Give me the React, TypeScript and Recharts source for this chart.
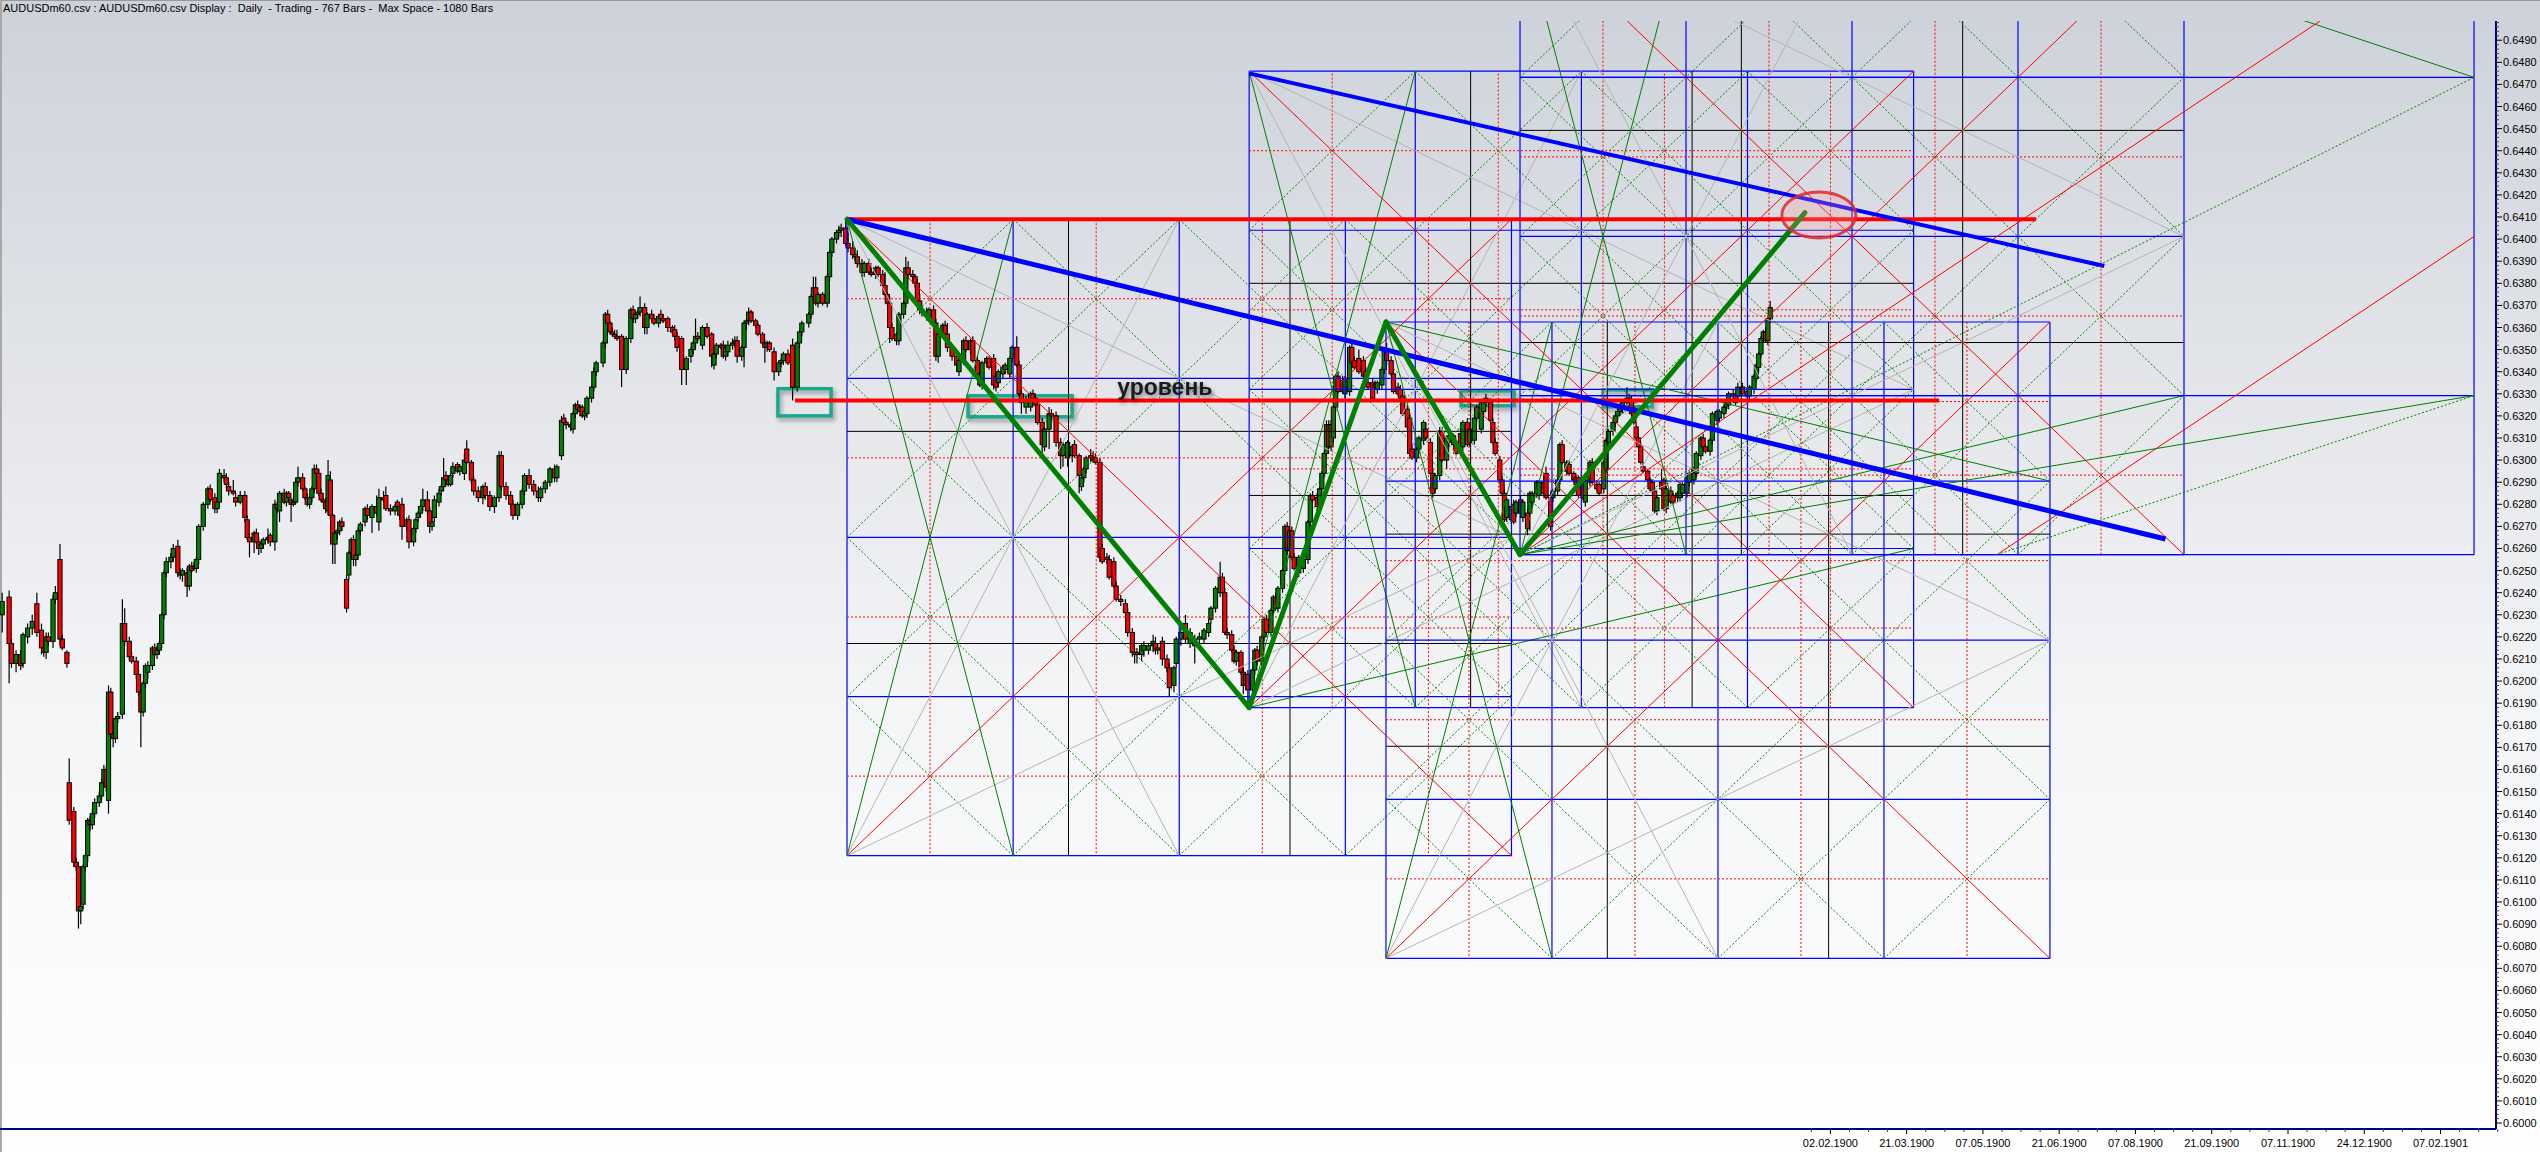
import React from "react";
import { ComposedChart, Bar, XAxis, YAxis, ReferenceLine, ReferenceArea, ReferenceDot } from "recharts";

const FONT = "'Liberation Sans', Arial, sans-serif";
const NAVY = "#000080";

// daily candles: [bar, open, high, low, close], prices in pips above 0.6000
const openingRange = [
  [1,230,240,222,236],[4,238,241,199,217],[5,217,219,206,208],[7,208,214,204,212],[9,212,214,205,207],[10,208,222,206,221],
  [12,220,226,217,224],[14,224,230,221,227],[16,235,240,220,222],[18,223,226,212,215],[19,215,217,211,213],[20,213,222,210,220],
  [21,220,222,216,218],[23,218,239,215,237],[24,237,243,235,240],[26,255,262,216,219],[27,219,221,214,215],[29,213,214,206,208],
];
const firstRally = [
  [30,154,165,135,137],[32,141,143,116,118],[33,118,120,114,116],[34,116,118,88,96],[35,96,99,90,98],[36,99,117,97,116],
  [37,116,122,114,121],[38,121,138,118,137],[39,137,139,132,135],[40,135,142,133,140],[41,140,147,138,145],[43,145,150,143,148],
  [44,148,156,146,154],[45,154,162,152,160],[46,160,161,150,152],[47,146,198,140,195],[48,195,197,174,176],[49,176,178,170,174],
  [50,174,184,172,183],[51,183,186,181,184],[53,185,237,183,226],[54,226,233,216,218],[56,218,220,209,211],[57,211,213,208,209],
  [59,209,211,201,203],[60,203,205,193,195],[61,195,197,170,186],[62,186,200,184,199],[63,199,208,197,207],[64,204,209,201,207],
  [66,207,216,205,215],[67,215,217,211,212],[68,212,216,210,214],[69,214,218,212,217],[70,217,231,215,230],[71,230,250,228,249],
  [72,249,256,247,254],[74,254,258,251,256],[75,256,262,254,260],[77,261,264,247,249],[78,249,251,246,248],[79,248,251,245,250],
  [81,249,251,238,243],[82,243,253,241,252],[83,252,254,249,250],[84,252,254,250,251],[85,251,256,249,255],[86,255,271,253,270],
];
const summerHighs = [
  [88,270,281,268,280],[90,280,288,278,287],[91,287,289,281,282],[93,283,285,276,278],[94,278,282,276,281],[95,281,296,279,294],
  [97,293,296,290,292],[98,292,294,287,289],[99,288,290,284,286],[101,286,291,284,285],[102,283,285,279,281],[104,281,286,280,284],
  [106,284,286,272,274],[107,273,275,264,265],[108,265,267,256,263],[110,263,268,258,267],[111,267,269,262,263],[112,263,265,257,260],
  [113,260,263,258,262],[114,262,265,260,264],[116,264,269,262,265],[117,266,267,261,263],[119,263,282,259,280],[120,280,281,276,278],
  [121,277,286,272,285],[123,285,287,280,281],[124,281,286,279,285],[125,285,286,282,283],[126,282,283,272,280],[127,280,283,279,281],
  [128,281,292,280,290],[129,290,297,288,292],[131,292,294,286,287],[132,287,288,282,283],[133,283,285,279,280],[134,280,284,278,283],
  [135,283,288,281,287],[136,287,298,285,296],[137,296,298,293,294],[138,294,296,284,285],[139,285,287,281,282],[140,282,283,279,281],
  [141,281,283,276,278],[142,277,300,275,293],[143,291,295,273,275],[144,275,276,253,262],[145,262,268,253,267],[146,267,269,264,268],
  [147,268,273,266,272],[148,272,274,268,270],[150,246,248,231,233],[151,248,259,246,258],[152,258,265,256,264],[153,264,266,252,255],
  [154,255,258,252,257],[155,257,270,255,268],[156,268,272,266,271],[158,272,279,270,278],[159,278,280,273,275],[161,274,280,267,279],
  [163,279,284,275,276],[164,272,287,268,283],[166,283,286,281,282],[167,284,288,277,278],[169,278,280,275,277],[171,277,280,275,279],
  [172,281,282,278,279],[173,275,280,273,279],[174,280,283,264,270],[176,270,274,268,273],[177,273,275,260,263],[179,263,270,261,269],
  [180,269,274,267,273],[181,274,277,272,276],[182,276,280,274,279],[183,279,287,277,282],[185,282,286,275,277],[186,277,279,267,270],
  [187,270,274,268,272],[188,274,284,272,282],[190,281,287,279,285],[191,286,289,284,288],[192,288,301,286,292],[193,293,295,289,291],
  [194,291,292,288,289],[195,289,294,288,293],[196,294,299,292,297],[198,298,299,294,295],[199,295,298,293,297],[201,294,303,291,300],
  [202,305,309,298,299],
];
const dipAndRecovery = [
  [204,299,300,289,291],[205,291,293,284,286],[207,286,288,281,283],[209,283,289,280,288],[210,288,290,282,284],[212,284,286,277,279],
  [214,279,284,276,283],[216,283,304,281,302],[217,302,304,286,288],[219,288,290,282,284],[221,284,286,278,280],[222,280,282,273,275],
  [224,275,281,273,280],[226,280,287,278,286],[227,286,294,284,293],[229,293,296,287,289],[231,289,291,284,286],[233,286,288,281,283],
  [234,283,288,281,287],[236,287,291,285,290],[238,290,297,288,296],[240,296,298,290,292],[241,292,298,290,297],
];
const topRally = [
  [243,302,320,300,318],[244,319,321,316,317],[245,317,318,314,316],[247,316,317,313,315],[248,314,322,312,321],[249,321,326,319,325],
  [250,325,327,322,323],[251,322,325,320,324],[252,324,325,319,320],[253,320,323,318,322],[254,321,329,319,328],[256,328,334,326,333],
  [257,333,342,331,340],[258,340,345,338,344],[261,344,354,342,353],[262,353,367,351,366],[263,366,368,361,362],[264,362,363,357,358],
  [265,358,360,356,357],[266,357,359,355,356],[267,356,359,354,355],[269,356,357,333,341],[271,341,356,339,355],[273,355,369,353,368],
  [274,368,370,362,364],[275,364,367,362,366],[276,366,368,364,367],[277,367,374,365,369],[279,369,371,357,360],[280,360,367,357,366],
  [282,366,368,363,364],[283,364,366,361,362],[285,362,366,360,365],[286,366,368,363,364],[287,364,366,362,363],[289,364,365,358,360],
  [291,360,361,357,358],[292,359,361,354,356],[293,356,358,349,351],[295,355,356,334,341],[297,341,347,334,346],[299,347,351,344,350],
  [300,350,354,348,353],[301,353,364,351,356],[302,356,358,354,355],[304,352,361,350,360],[306,360,362,355,356],[308,357,358,342,347],
  [309,343,349,341,348],[310,348,353,346,352],[312,352,353,350,351],[313,352,354,346,347],[314,347,352,345,351],[315,349,354,347,352],
  [317,352,355,350,353],[318,353,356,351,354],[319,354,356,344,347],[321,347,352,345,351],[322,351,363,342,362],[323,362,364,359,363],
  [324,363,369,361,367],[325,367,368,362,363],[327,363,364,360,361],[328,361,362,356,357],[330,357,358,352,353],[331,353,354,344,351],
  [332,351,354,349,353],[333,353,354,349,350],[335,349,351,336,340],[337,340,345,338,344],[338,344,346,342,345],[339,345,349,343,348],
  [341,348,350,343,344],
];
const mainDecline = [
  [343,352,355,327,333],[345,333,354,331,353],[346,353,359,351,358],[347,358,363,356,362],[350,362,367,360,366],[351,366,375,364,374],
  [352,374,383,372,378],[353,378,383,370,371],[354,371,376,369,375],[356,375,376,370,371],[358,371,384,369,383],[359,383,395,381,394],
  [360,394,401,392,400],[362,400,404,398,403],[363,403,406,401,404],[364,404,407,401,405],[366,405,409,397,398],[367,398,403,394,396],
  [369,396,399,391,393],[370,393,396,390,392],[371,392,395,387,389],[373,389,391,383,385],[374,385,390,383,389],[376,389,391,384,385],
  [377,385,387,383,384],[379,384,388,382,387],[380,387,388,383,384],[382,384,386,378,379],[383,379,385,374,375],[384,375,376,370,371],
  [385,371,374,353,360],[386,360,362,354,355],[388,357,358,352,354],[389,354,367,352,366],[391,366,372,364,371],[392,371,392,369,387],
  [393,387,390,382,384],[395,384,386,380,383],[396,383,384,378,380],[397,380,382,371,372],[398,372,375,366,368],[399,368,370,365,367],
  [401,367,369,363,365],[402,365,369,363,368],[404,368,370,361,362],[405,362,364,345,347],[406,347,358,344,357],[408,357,362,355,361],
  [409,361,363,356,357],[410,357,362,349,351],[412,351,352,345,347],[414,347,348,340,343],[415,340,346,338,345],[417,345,355,343,354],
  [418,354,356,349,350],[420,350,355,348,354],[421,354,356,344,345],[423,345,347,338,339],[424,339,341,333,334],[425,334,345,332,344],
  [427,344,347,342,346],[428,346,347,341,342],[430,346,348,332,334],[431,338,339,331,333],[432,335,341,333,340],[434,339,343,337,342],
  [435,341,344,339,343],[437,339,347,337,346],[438,346,352,344,351],[440,351,356,342,343],[441,343,345,329,330],[442,330,332,321,326],
  [444,324,329,321,327],[446,324,331,322,330],[447,330,332,326,327],[448,328,330,324,325],[449,325,327,316,317],[451,317,319,302,307],
  [452,306,315,304,314],[454,314,324,305,321],[455,321,323,318,320],[457,320,322,306,308],[459,308,310,296,302],[460,302,308,297,307],
  [462,301,309,297,308],[464,302,307,299,306],[465,307,309,301,302],[467,302,303,285,293],[468,288,293,286,292],[469,292,297,290,296],
  [470,296,302,294,301],[472,302,305,299,301],[473,301,304,299,300],[474,301,303,298,299],[476,299,301,254,256],[477,260,262,253,254],
  [479,256,258,253,255],[480,255,257,246,247],[482,254,256,242,243],[483,243,245,236,237],[485,237,239,234,236],[487,235,237,230,231],
  [488,231,233,220,222],[490,222,224,211,213],[491,213,215,208,212],[492,213,215,208,212],[494,212,217,209,216],[495,214,218,211,216],
  [497,214,217,212,216],[499,216,221,213,218],[500,217,220,212,214],[501,214,217,212,215],[503,218,220,207,210],[505,210,212,204,206],
  [506,206,208,193,197],[508,198,207,195,206],[509,208,220,206,219],[511,219,224,216,222],[513,226,230,217,219],[515,217,224,215,222],
  [517,216,221,208,219],[519,219,222,216,220],[521,219,224,217,223],[523,222,228,220,226],[524,228,234,226,233],[526,233,243,231,242],
  [528,240,254,238,247],[529,247,249,238,240],[530,240,242,221,222],[531,222,224,219,221],
];
const bottomBase = [
  [533,221,223,213,214],[534,214,216,208,209],[535,209,214,207,213],[537,213,214,203,204],[538,204,206,194,198],[539,198,204,196,203],
  [540,203,205,190,196],[542,196,206,194,205],[543,205,215,203,214],[544,214,216,207,209],[546,209,221,207,220],[547,220,229,218,228],
  [548,228,230,221,222],[550,222,233,220,232],[551,232,239,230,238],[552,238,240,232,233],[553,233,243,231,242],[555,242,251,240,250],
];
const secondSwing = [
  [556,250,271,248,270],[557,270,272,257,259],[558,259,269,257,268],[559,268,270,255,256],[560,256,258,250,251],[562,249,257,247,256],
  [564,251,256,249,255],[566,255,273,253,272],[567,272,285,270,284],[568,284,286,281,282],[570,283,285,277,279],[571,280,288,278,287],
  [572,287,295,285,294],[573,294,304,292,303],[574,303,318,302,316],[575,316,318,305,306],[576,306,318,304,316],[577,310,325,308,324],
  [578,324,339,322,338],[579,338,340,330,331],[581,336,338,330,331],[582,330,338,328,337],[584,331,352,329,351],[585,351,353,343,344],
  [586,345,347,341,342],[588,346,350,339,340],[590,345,347,337,338],[591,340,342,336,338],[592,335,337,332,333],[594,335,337,327,328],
  [595,334,336,332,333],[596,332,336,330,335],[598,334,342,332,341],[599,341,351,339,350],[600,350,353,343,345],[602,345,347,338,339],
  [603,339,341,330,331],[605,333,335,329,330],[606,332,334,327,328],[607,329,331,320,321],[609,323,325,314,315],[610,319,321,302,303],
  [611,305,307,300,301],[613,301,306,299,305],[614,305,311,303,310],[616,309,318,307,317],[617,314,317,309,310],[619,308,310,293,294],
  [620,294,296,283,285],[621,287,294,285,293],[623,293,315,291,313],[624,313,315,299,300],[626,300,311,296,310],[627,308,312,306,311],
  [629,311,312,306,307],[630,308,309,302,303],[632,312,314,305,306],[633,306,318,304,317],[635,317,319,306,307],[636,308,315,306,314],
  [638,309,320,307,319],[639,319,325,317,324],[641,314,327,312,326],[642,322,327,320,326],[643,326,330,324,328],[645,326,328,317,318],
  [646,317,319,307,308],[647,308,310,302,303],[649,300,302,290,291],[650,291,293,284,285],[651,285,287,272,273],[652,274,283,272,282],
  [654,273,280,271,279],[655,280,282,271,272],[656,276,282,274,281],
];
const finalRally = [
  [658,282,284,274,276],[659,274,282,272,281],[661,276,278,266,269],[662,276,286,268,285],[663,281,286,279,285],[665,285,291,283,290],
  [666,284,291,282,290],[668,290,293,284,285],[669,294,297,282,283],[671,283,285,268,270],[672,283,287,281,286],[674,286,292,284,291],
  [675,291,308,289,307],[676,307,309,298,299],[678,295,300,293,299],[679,298,300,293,294],[681,294,295,290,291],[682,292,293,288,289],
  [683,292,293,283,284],[685,289,290,282,283],[686,281,292,279,291],[688,290,300,288,299],[689,299,301,289,290],[691,289,291,286,287],
  [692,289,290,284,285],[694,287,300,285,299],[695,296,310,294,309],[696,308,314,306,313],[698,313,318,311,317],[699,317,321,315,320],
  [700,320,323,318,322],[701,322,325,320,324],[702,323,327,321,326],[704,328,333,325,326],[705,328,330,325,326],[706,327,329,320,321],
  [707,323,324,316,317],[708,315,317,309,310],[709,310,312,305,306],[710,306,308,298,299],[711,297,299,294,295],[713,295,296,290,291],
  [714,291,292,286,287],[715,290,291,285,286],[716,286,288,276,277],[717,277,284,275,283],[719,290,296,286,287],[720,291,292,277,278],
  [721,278,288,276,287],[723,286,288,280,281],[724,284,285,280,281],[726,283,286,281,285],[727,283,290,281,289],[728,285,290,283,289],
  [730,285,293,283,292],[731,290,295,288,294],[733,291,297,289,296],[734,294,304,292,303],[736,302,311,300,310],[737,310,312,305,306],
  [738,306,307,303,304],[740,304,310,302,309],[741,309,322,307,321],[743,318,323,316,322],[744,319,323,317,322],[746,321,325,319,324],
  [747,324,327,322,326],[748,325,331,323,330],[750,330,332,327,329],[751,330,332,325,326],[752,329,335,327,333],[754,333,335,329,330],
  [756,331,333,328,329],[757,329,334,327,333],[759,332,339,330,338],[760,337,344,335,343],[761,342,349,340,348],[762,348,356,346,355],
  [763,355,359,353,358],[764,358,360,353,354],[765,354,365,352,364],[766,364,372,362,369],
];

// x axis: bar slots, dates shown only from 1900 on
const dateBars = [792, 825, 858, 891, 924, 957, 990, 1023, 1056];
const dateLabels = ["02.02.1900", "21.03.1900", "07.05.1900", "21.06.1900", "07.08.1900", "21.09.1900", "07.11.1900", "24.12.1900", "07.02.1901"];

const priceTicks = [
  0.6000, 0.6010, 0.6020, 0.6030, 0.6040, 0.6050, 0.6060, 0.6070, 0.6080, 0.6090,
  0.6100, 0.6110, 0.6120, 0.6130, 0.6140, 0.6150, 0.6160, 0.6170, 0.6180, 0.6190,
  0.6200, 0.6210, 0.6220, 0.6230, 0.6240, 0.6250, 0.6260, 0.6270, 0.6280, 0.6290,
  0.6300, 0.6310, 0.6320, 0.6330, 0.6340, 0.6350, 0.6360, 0.6370, 0.6380, 0.6390,
  0.6400, 0.6410, 0.6420, 0.6430, 0.6440, 0.6450, 0.6460, 0.6470, 0.6480, 0.6490,
];

// drawing objects (bar, price)
const zigzag = [[366.5, 0.6409], [540.5, 0.6188], [599.7, 0.63625], [657.7, 0.62572], [781, 0.6412]];
const resistance = { from: 366.5, to: 881, price: 0.6409 };
const level = { from: 344, to: 839, price: 0.6327 };
const trendLines = [
  { from: [366.5, 0.6409], to: [937, 0.62643], width: 5 },
  { from: [540.5, 0.6475], to: [910.5, 0.63878], width: 4 },
];
// gann boxes: start/end bar, anchor price, direction; sparse boxes keep only frame and fans
const gannBoxes = [
  { t0: 366.5, t1: 654, anchor: 0.6409, dir: -1, sparse: false },
  { t0: 540.5, t1: 828, anchor: 0.6188, dir: 1, sparse: false },
  { t0: 599.7, t1: 887, anchor: 0.63625, dir: -1, sparse: false },
  { t0: 657.7, t1: 945, anchor: 0.62572, dir: 1, sparse: false },
  { t0: 657.7, t1: 1070.5, anchor: 0.62572, dir: 1, sparse: true },
];
const GANN_RANGE = 0.0288;
const tealBoxes = [
  [336.6, 359.6, 0.6320, 0.63323],
  [418.9, 463.9, 0.63196, 0.63291],
  [632.2, 655.1, 0.63246, 0.63313],
  [693.6, 714.8, 0.63241, 0.63318],
];
const target = { bar: 787, price: 0.64109 };
const levelText = { bar: 504, price: 0.63295, text: "уровень" };

const toPrice = (p: number) => 0.6 + p / 10000;
const candles = [
  ...openingRange, ...firstRally, ...summerHighs, ...dipAndRecovery, ...topRally,
  ...mainDecline, ...bottomBase, ...secondSwing, ...finalRally,
].map(([bar, o, h, l, c]) => ({
  bar,
  open: toPrice(o),
  close: toPrice(c),
  high: toPrice(Math.max(h, o, c)),
  low: toPrice(Math.min(l, o, c)),
}));

const xTicks: number[] = [];
for (let i = 0; i < 37; i++) xTicks.push(783.75 + i * 8.25);
const yTicks: number[] = [];
for (let i = 0; i < 250; i++) yTicks.push(+(0.6 + i * 0.0002).toFixed(4));

function gannSegments(b: any) {
  const P = (u: number, v: number) => ({ x: b.t0 + ((b.t1 - b.t0) * u) / 4, y: b.anchor + (b.dir * GANN_RANGE * v) / 4 });
  const segs: any[] = [];
  const add = (u1: number, v1: number, u2: number, v2: number, stroke: string, width = 1, dash?: string) =>
    segs.push({ pts: [P(u1, v1), P(u2, v2)], stroke, width, dash });
  if (b.sparse) {
    add(0, 0, 4, 0, "#0000ff", 1.2);
    add(0, 1, 4, 1, "#0000ff", 1.2);
    add(0, 3, 4, 3, "#0000ff", 1.2);
    add(4, 0, 4, 4, "#0000ff", 1.2);
    add(0, 0, 4, 4, "#ff0000");
    add(2, 0, 4, 2, "#ff0000");
    add(0, 0, 4, 1, "#008000");
    add(0, 0, 4, 3, "#008000", 1, "2 2");
    add(2, 4, 4, 3, "#008000");
    add(2, 0, 4, 1, "#008000", 1, "2 2");
    return segs;
  }
  for (let k = 0; k <= 4; k++) {
    add(k, 0, k, 4, "#0000ff", 1.2);
    add(0, k, 4, k, "#0000ff", 1.2);
  }
  for (const k of [4 / 3, 8 / 3]) {
    add(k, 0, k, 4, "#000000");
    add(0, k, 4, k, "#000000");
  }
  for (const k of [0.5, 1.5, 2.5, 3.5]) {
    add(k, 0, k, 4, "#ff0000", 1, "2 2");
    add(0, k, 4, k, "#ff0000", 1, "2 2");
  }
  for (let k = -3; k <= 3; k++) {
    if (k !== 0) add(Math.max(0, k), Math.max(0, -k), Math.min(4, 4 + k), Math.min(4, 4 - k), "#008000", 1, "2 2");
  }
  for (let k = 1; k <= 7; k++) {
    if (k !== 4) add(Math.max(0, k - 4), Math.min(4, k), Math.min(4, k), Math.max(0, k - 4), "#008000", 1, "2 2");
  }
  add(0, 0, 4, 2, "#b4b4b4");
  add(0, 0, 2, 4, "#b4b4b4");
  add(0, 4, 4, 2, "#b4b4b4");
  add(0, 4, 2, 0, "#b4b4b4");
  add(0, 0, 4, 4, "#ff0000");
  add(0, 4, 4, 0, "#ff0000");
  add(0, 0, 1, 4, "#008000");
  add(1, 0, 0, 4, "#008000");
  add(0, 0, 4, 1, "#008000");
  return segs;
}
const gridSegments = gannBoxes.flatMap(gannSegments);

const Candle = (props: any) => {
  const { x, y, width, height, payload } = props;
  if (x == null || y == null) return null;
  const top = Math.min(y, y + height);
  const span = Math.abs(height);
  const { open, close, high, low } = payload;
  const yOf = (p: number) => top + ((high - p) / (high - low)) * span;
  const cx = x + width / 2;
  const b1 = yOf(Math.max(open, close));
  const b2 = yOf(Math.min(open, close));
  return (
    <g>
      <line x1={cx} x2={cx} y1={top} y2={top + span} stroke="#000" strokeWidth={1.2} />
      <rect x={cx - 2.1} y={b1} width={4.2} height={Math.max(1, b2 - b1)} fill={close >= open ? "#008000" : "#ff0000"} stroke="#000" strokeWidth={1} />
    </g>
  );
};

const YTick = (props: any) => {
  const { x, y, payload } = props;
  const v = payload.value;
  const major = priceTicks.some((t) => Math.abs(t - v) < 1e-7);
  if (!major) return <line x1={x} x2={x + 3} y1={y} y2={y} stroke="#444" />;
  return (
    <g>
      <line x1={x} x2={x + 6} y1={y} y2={y} stroke="#000" />
      <text x={x + 7} y={y + 4} fontSize={11} fontFamily={FONT} fill="#000">{v.toFixed(4)}</text>
    </g>
  );
};

const XTick = (props: any) => {
  const { x, y, payload } = props;
  const idx = dateBars.findIndex((b) => Math.abs(b - payload.value) < 0.01);
  if (idx < 0) return <line x1={x} x2={x} y1={y} y2={y + 3} stroke="#444" />;
  return (
    <g>
      <line x1={x} x2={x} y1={y} y2={y + 5} stroke="#000" />
      <text x={x} y={y + 18} textAnchor="middle" fontSize={11} fontFamily={FONT} fill="#000">{dateLabels[idx]}</text>
    </g>
  );
};

export default function App() {
  return (
    <div
      style={{
        position: "absolute", left: 0, top: 0, width: 2540, height: 1152, overflow: "hidden",
        background: "linear-gradient(to bottom, #cdd2da 0%, #e4e6ea 35%, #f4f5f7 61%, #ffffff 100%)",
      }}
    >
      <div style={{ position: "absolute", left: 0, top: 0, width: 2540, height: 1, background: "#9a9a9a" }} />
      <div style={{ position: "absolute", left: 0, top: 0, width: 2, height: 1152, background: "#a8a8a8" }} />
      <div style={{ position: "absolute", left: 3, top: 2, fontSize: 11, fontFamily: FONT, whiteSpace: "pre", color: "#000" }}>
        {"AUDUSDm60.csv : AUDUSDm60.csv Display :  Daily  - Trading - 767 Bars -  Max Space - 1080 Bars"}
      </div>
      <ComposedChart width={2540} height={1152} data={candles} margin={{ top: 21, right: 0, bottom: 0, left: 0 }}>
        <XAxis
          dataKey="bar" type="number" domain={[0, 1080]} allowDataOverflow ticks={xTicks} interval={0}
          tick={XTick} tickLine={false} tickSize={0} tickMargin={0} height={23}
          axisLine={{ stroke: NAVY, strokeWidth: 2 }}
        />
        <YAxis
          orientation="right" type="number" domain={[0.59973, 0.64987]} allowDataOverflow ticks={yTicks} interval={0}
          tick={YTick} tickLine={false} tickSize={0} tickMargin={0} width={44}
          axisLine={{ stroke: NAVY, strokeWidth: 2 }}
        />
        {gridSegments.map((s, i) => (
          <ReferenceLine key={"g" + i} segment={s.pts} stroke={s.stroke} strokeWidth={s.width} strokeDasharray={s.dash} ifOverflow="hidden" />
        ))}
        <Bar dataKey={(d: any) => [d.low, d.high]} barSize={4} shape={Candle} isAnimationActive={false} />
        <ReferenceLine segment={[{ x: resistance.from, y: resistance.price }, { x: resistance.to, y: resistance.price }]} stroke="#ff0000" strokeWidth={4} ifOverflow="hidden" />
        <ReferenceLine segment={[{ x: level.from, y: level.price }, { x: level.to, y: level.price }]} stroke="#ff0000" strokeWidth={4} ifOverflow="hidden" />
        {trendLines.map((t, i) => (
          <ReferenceLine key={"t" + i} segment={[{ x: t.from[0], y: t.from[1] }, { x: t.to[0], y: t.to[1] }]} stroke="#0000ff" strokeWidth={t.width} ifOverflow="hidden" />
        ))}
        {zigzag.slice(1).map((p, i) => (
          <ReferenceLine key={"z" + i} segment={[{ x: zigzag[i][0], y: zigzag[i][1] }, { x: p[0], y: p[1] }]} stroke="#008000" strokeWidth={5} strokeLinecap="round" ifOverflow="hidden" />
        ))}
        {tealBoxes.map((b, i) => (
          <ReferenceArea
            key={"b" + i} x1={b[0]} x2={b[1]} y1={b[2]} y2={b[3]} ifOverflow="hidden"
            shape={(p: any) => (
              <rect x={p.x} y={p.y} width={p.width} height={p.height} fill="none" stroke="#1aa88c" strokeWidth={3.5}
                style={{ filter: "drop-shadow(2px 3px 2px rgba(0,0,0,0.35))" }} />
            )}
          />
        ))}
        <ReferenceDot
          x={target.bar} y={target.price} r={1}
          shape={(p: any) => (
            <ellipse cx={p.cx} cy={p.cy} rx={37} ry={23} fill="rgba(255,150,150,0.25)" stroke="rgba(225,40,40,0.85)" strokeWidth={3} />
          )}
        />
        <ReferenceDot
          x={levelText.bar} y={levelText.price} r={1}
          shape={(p: any) => (
            <text x={p.cx} y={p.cy} textAnchor="middle" fontSize={23} fontWeight="bold" fontFamily={FONT} fill="#1a1a1a"
              style={{ filter: "drop-shadow(2px 3px 2px rgba(0,0,0,0.45))" }}>
              {levelText.text}
            </text>
          )}
        />
      </ComposedChart>
    </div>
  );
}
